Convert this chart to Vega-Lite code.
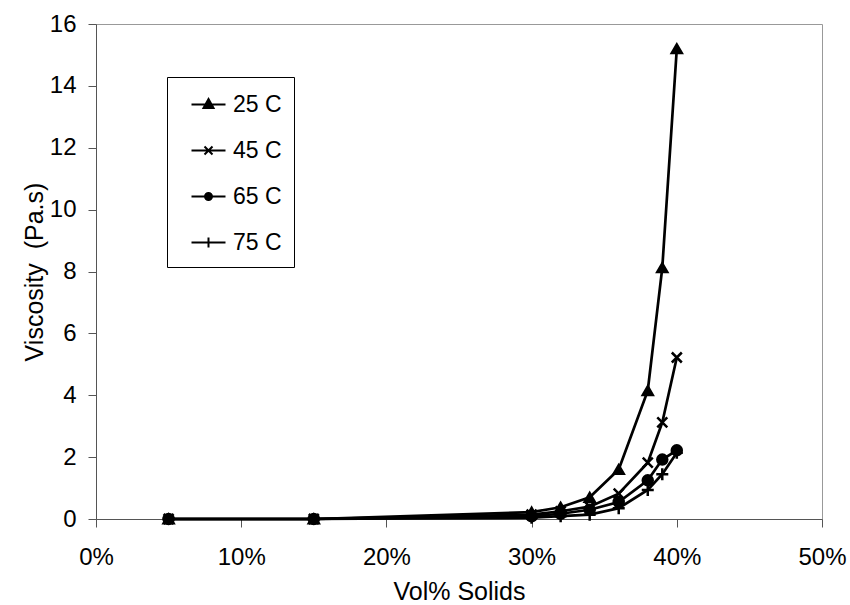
{
  "$schema": "https://vega.github.io/schema/vega-lite/v6.json",
  "width": 726,
  "height": 495,
  "autosize": {"type": "none"},
  "padding": {"left": 96, "top": 24, "right": 28, "bottom": 86},
  "background": "white",
  "config": {
    "font": "Liberation Sans",
    "view": {"stroke": "#999", "strokeWidth": 1},
    "axis": {
      "grid": false,
      "domainColor": "#555",
      "tickColor": "#555",
      "labelColor": "black",
      "titleColor": "black",
      "labelFontSize": 24,
      "titleFontSize": 25,
      "titleFontWeight": "normal",
      "tickSize": 8,
      "labelFlush": false
    }
  },
  "data": {
    "values": [
      {"series": "25 C", "solids": 0.05, "visc": 0},
      {"series": "25 C", "solids": 0.15, "visc": 0},
      {"series": "25 C", "solids": 0.30, "visc": 0.22},
      {"series": "25 C", "solids": 0.32, "visc": 0.38},
      {"series": "25 C", "solids": 0.34, "visc": 0.70},
      {"series": "25 C", "solids": 0.36, "visc": 1.60},
      {"series": "25 C", "solids": 0.38, "visc": 4.15},
      {"series": "25 C", "solids": 0.39, "visc": 8.12},
      {"series": "25 C", "solids": 0.40, "visc": 15.2},
      {"series": "45 C", "solids": 0.05, "visc": 0},
      {"series": "45 C", "solids": 0.15, "visc": 0},
      {"series": "45 C", "solids": 0.30, "visc": 0.14},
      {"series": "45 C", "solids": 0.32, "visc": 0.25},
      {"series": "45 C", "solids": 0.34, "visc": 0.40},
      {"series": "45 C", "solids": 0.36, "visc": 0.82},
      {"series": "45 C", "solids": 0.38, "visc": 1.82},
      {"series": "45 C", "solids": 0.39, "visc": 3.12},
      {"series": "45 C", "solids": 0.40, "visc": 5.22},
      {"series": "65 C", "solids": 0.05, "visc": 0},
      {"series": "65 C", "solids": 0.15, "visc": 0},
      {"series": "65 C", "solids": 0.30, "visc": 0.09},
      {"series": "65 C", "solids": 0.32, "visc": 0.17},
      {"series": "65 C", "solids": 0.34, "visc": 0.30},
      {"series": "65 C", "solids": 0.36, "visc": 0.55},
      {"series": "65 C", "solids": 0.38, "visc": 1.25},
      {"series": "65 C", "solids": 0.39, "visc": 1.92},
      {"series": "65 C", "solids": 0.40, "visc": 2.22},
      {"series": "75 C", "solids": 0.05, "visc": 0},
      {"series": "75 C", "solids": 0.15, "visc": 0},
      {"series": "75 C", "solids": 0.30, "visc": 0.04},
      {"series": "75 C", "solids": 0.32, "visc": 0.09},
      {"series": "75 C", "solids": 0.34, "visc": 0.14},
      {"series": "75 C", "solids": 0.36, "visc": 0.35},
      {"series": "75 C", "solids": 0.38, "visc": 0.94},
      {"series": "75 C", "solids": 0.39, "visc": 1.45},
      {"series": "75 C", "solids": 0.40, "visc": 2.14}
    ]
  },
  "encoding": {
    "x": {
      "field": "solids",
      "type": "quantitative",
      "scale": {"domain": [0, 0.5], "nice": false, "zero": false},
      "axis": {
        "format": ".0%",
        "values": [0, 0.1, 0.2, 0.3, 0.4, 0.5],
        "title": "Vol% Solids",
        "labelPadding": 18,
        "titlePadding": 10
      }
    },
    "y": {
      "field": "visc",
      "type": "quantitative",
      "scale": {"domain": [0, 16], "nice": false},
      "axis": {
        "values": [0, 2, 4, 6, 8, 10, 12, 14, 16],
        "title": "Viscosity \u00a0(Pa.s)",
        "labelPadding": 12,
        "titlePadding": 2
      }
    }
  },
  "layer": [
    {
      "mark": {"type": "line", "color": "black", "strokeWidth": 2.7},
      "encoding": {"detail": {"field": "series", "type": "nominal"}}
    },
    {
      "mark": {"type": "point", "filled": true, "fill": "black", "stroke": "black", "strokeWidth": 2.5, "opacity": 1, "size": 100},
      "encoding": {
        "shape": {
          "field": "series",
          "type": "nominal",
          "scale": {
            "domain": ["25 C", "45 C", "65 C", "75 C"],
            "range": ["triangle-up", "M-1,-1L1,1M-1,1L1,-1", "circle", "M-1.2,0H1.2M0,-1.2V1.2"]
          },
          "legend": null
        }
      }
    },
    {
      "transform": [{"filter": "datum.solids > 1"}],
      "mark": {"type": "point", "filled": true, "fill": "black", "stroke": "black", "strokeWidth": 2, "opacity": 1},
      "encoding": {
        "shape": {
          "field": "series",
          "type": "nominal",
          "scale": {
            "domain": ["25 C", "45 C", "65 C", "75 C"],
            "range": [
              "M0.1,0H3.5M1.8,-0.55L2.3,0.35L1.3,0.35Z",
              "M0.1,0H3.5M1.4,-0.4L2.2,0.4M1.4,0.4L2.2,-0.4",
              "M0.1,0H3.5M1.45,0A0.35,0.35,0,1,1,2.15,0A0.35,0.35,0,1,1,1.45,0Z",
              "M0.1,0H3.5M1.8,-0.5V0.5"
            ]
          },
          "legend": {
            "title": "\u00a0",
            "titleFontSize": 1,
            "titlePadding": 3,
            "orient": "none",
            "legendX": 71,
            "legendY": 53,
            "strokeColor": "black",
            "padding": 12,
            "symbolSize": 400,
            "symbolStrokeWidth": 2,
            "symbolFillColor": "black",
            "symbolStrokeColor": "black",
            "symbolOpacity": 1,
            "labelFontSize": 23,
            "labelColor": "black",
            "labelOffset": 31,
            "rowPadding": 22,
            "encoding": {
              "symbols": {
                "fill": {"value": "black"},
                "stroke": {"value": "black"},
                "strokeWidth": {"value": 2},
                "opacity": {"value": 1}
              }
            }
          }
        }
      }
    }
  ],
  "resolve": {"scale": {"shape": "independent"}}
}
